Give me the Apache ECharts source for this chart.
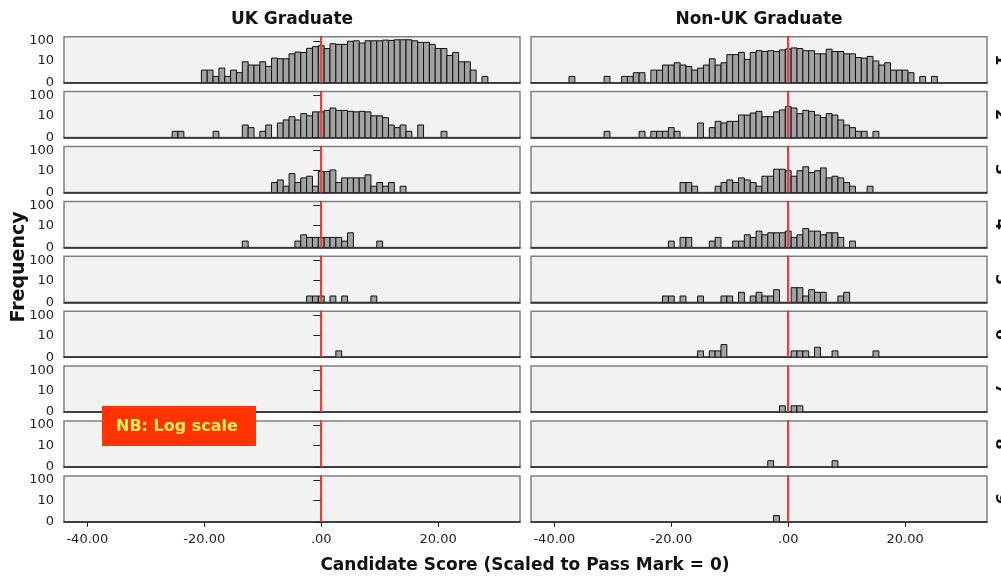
<!DOCTYPE html>
<html>
<head>
<meta charset="utf-8">
<script src="https://cdn.jsdelivr.net/npm/echarts@6/dist/echarts.min.js"></script>
<style>html,body{margin:0;padding:0;background:#fff;}#c{width:1001px;height:577px;}</style>
</head>
<body>
<div id="c"></div>
<script>
// Column and row labels
const columns = ['UK Graduate', 'Non-UK Graduate'];
const rowLabels = ['1', '2', '3', '4', '5', '6', '7', '8', '9'];
const yTickCounts = [0, 10, 100];
const xTicks = [-40, -20, 0, 20];

// Histogram counts: first bin (score) of each panel, then counts for consecutive bins of width 1
const ukStart = [-20, -25, -8, -13, -2, 3, 0, 0, 0];
const uk1 = [3,3,1,4,1,3,2,9,6,6,9,5,14,13,13,23,28,27,43,52,58,42,72,67,67,94,100,78,100,100,100,108,104,112,112,112,100,84,84,67,42,42,19,27,9,9,3,0,1];
const uk2 = [1,1,0,0,0,0,0,1,0,0,0,0,3,2,0,1,3,0,4,6,9,6,13,10,16,16,19,25,19,19,17,16,17,16,10,10,8,3,2,3,1,0,3,0,0,0,1];
const uk3 = [2,3,1,7,2,4,5,1,9,9,11,2,4,4,4,4,6,1,2,1,2,0,1];
const uk4 = [1,0,0,0,0,0,0,0,0,1,3,2,2,2,2,2,2,1,4,0,0,0,0,1];
const uk5 = [1,1,1,0,1,0,1,0,0,0,0,1];
const uk6 = [1];
const uk7 = [];
const uk8 = [];
const uk9 = [];

const nonStart = [-37, -31, -18, -20, -21, -15, -1, -3, -2];
const non1 = [1,0,0,0,0,0,1,0,0,1,1,2,2,0,3,3,6,6,8,6,5,3,4,6,13,6,8,21,21,27,12,27,33,30,33,30,36,40,45,42,33,33,23,23,39,30,30,23,23,15,14,17,10,6,8,3,3,3,2,0,1,0,1];
const non2 = [1,0,0,0,0,0,1,0,1,1,1,2,1,0,0,0,4,0,2,5,4,5,5,11,11,14,17,9,9,16,20,29,25,13,19,17,11,8,13,11,6,3,2,1,1,0,1];
const non3 = [2,2,1,0,0,0,1,2,3,2,4,3,2,1,5,5,12,12,10,5,10,16,8,10,14,4,5,4,2,1,0,0,1];
const non4 = [1,0,2,2,0,0,0,1,2,0,0,1,1,3,2,5,3,4,4,4,5,2,3,7,5,5,3,4,4,2,0,1];
const non5 = [1,1,0,1,0,0,1,0,0,0,1,1,0,2,0,1,2,1,1,3,0,0,4,4,1,3,2,2,0,0,1,2];
const non6 = [1,0,1,1,3,0,0,0,0,0,0,0,0,0,0,0,1,1,1,0,2,0,0,1,0,0,0,0,0,0,1];
const non7 = [1,0,1,1];
const non8 = [1,0,0,0,0,0,0,0,0,0,0,1];
const non9 = [1];

const ukCounts = [uk1, uk2, uk3, uk4, uk5, uk6, uk7, uk8, uk9];
const nonCounts = [non1, non2, non3, non4, non5, non6, non7, non8, non9];

// Layout
const XMIN = -44, XMAX = 34, YMAX = 2.2;
const colLeft = [64, 531];
const colWidth = 456;
const rowTop0 = 36.7, rowPitch = 54.9, rowHeight = 46;
const FONT = 'DejaVu Sans';

const logv = c => Math.log10(c + 1);
const yTickVals = yTickCounts.map(logv);

const grids = [], xAxes = [], yAxes = [], series = [];
const panels = [];
for (let r = 0; r < 9; r++) {
  panels.push({col: 0, row: r, start: ukStart[r], counts: ukCounts[r]});
  panels.push({col: 1, row: r, start: nonStart[r], counts: nonCounts[r]});
}

panels.forEach((p, i) => {
  const isBottom = p.row === 8;
  const isLeft = p.col === 0;
  grids.push({
    left: colLeft[p.col], width: colWidth,
    top: rowTop0 + rowPitch * p.row, height: rowHeight,
    show: true, backgroundColor: '#f2f2f2',
    borderColor: '#808080', borderWidth: 1.5
  });
  xAxes.push({
    type: 'value', gridIndex: i, min: XMIN, max: XMAX,
    axisLine: {show: true, onZero: false, lineStyle: {color: '#222', width: 1.5}},
    splitLine: {show: false},
    axisTick: {show: isBottom, length: 5, customValues: xTicks, lineStyle: {color: '#222'}},
    axisLabel: {
      show: isBottom, customValues: xTicks, margin: 11,
      fontFamily: FONT, fontSize: 13, color: '#222',
      formatter: v => v === 0 ? '.00' : v.toFixed(2)
    }
  });
  yAxes.push({
    type: 'value', gridIndex: i, min: 0, max: YMAX,
    axisLine: {show: true, lineStyle: {color: '#333', width: 1.5}},
    splitLine: {show: false},
    axisTick: {show: isLeft, length: 8, customValues: yTickVals, lineStyle: {color: '#222'}},
    axisLabel: {
      show: isLeft, customValues: yTickVals, margin: 10,
      fontFamily: FONT, fontSize: 13, color: '#222',
      formatter: v => String(Math.round(Math.pow(10, v) - 1))
    }
  });
  const data = [];
  p.counts.forEach((c, k) => { if (c > 0) data.push([p.start + k, logv(c)]); });
  series.push({
    type: 'custom', xAxisIndex: i, yAxisIndex: i, clip: true, silent: true,
    data: data,
    renderItem: (params, api) => {
      const x = api.value(0), y = api.value(1);
      const a = api.coord([x - 0.5, y]);
      const b = api.coord([x + 0.5, 0]);
      return {type: 'rect', shape: {x: a[0], y: a[1], width: b[0] - a[0], height: b[1] - a[1]},
        style: {fill: '#a2a2a2', stroke: '#111', lineWidth: 1}};
    },
    z: 2
  });
  series.push({
    type: 'line', xAxisIndex: i, yAxisIndex: i, silent: true,
    data: [[0, 0], [0, YMAX]], symbol: 'none',
    lineStyle: {color: '#ef3e3e', width: 2}, z: 5
  });
});

const graphics = [];
columns.forEach((t, c) => {
  graphics.push({type: 'text', x: colLeft[c] + colWidth / 2, y: 20,
    style: {text: t, fontFamily: FONT, fontSize: 17, fontWeight: 'bold', fill: '#111',
      align: 'center', verticalAlign: 'middle'}});
});
rowLabels.forEach((t, r) => {
  graphics.push({type: 'text', x: 1000, y: rowTop0 + rowPitch * r + rowHeight / 2, rotation: -Math.PI / 2,
    style: {text: t, fontFamily: FONT, fontSize: 16, fontWeight: 'bold', fill: '#111',
      align: 'center', verticalAlign: 'middle'}});
});
graphics.push({type: 'text', x: 19, y: 267, rotation: Math.PI / 2,
  style: {text: 'Frequency', fontFamily: FONT, fontSize: 19, fontWeight: 'bold', fill: '#111',
    align: 'center', verticalAlign: 'middle'}});
graphics.push({type: 'text', x: 525, y: 566,
  style: {text: 'Candidate Score (Scaled to Pass Mark = 0)', fontFamily: FONT, fontSize: 17, fontWeight: 'bold', fill: '#111',
    align: 'center', verticalAlign: 'middle'}});
graphics.push({type: 'rect', shape: {x: 102, y: 406, width: 154, height: 40}, style: {fill: '#ff3300'}, z: 100});
graphics.push({type: 'text', x: 116, y: 427, z: 101,
  style: {text: 'NB: Log scale', fontFamily: FONT, fontSize: 16, fontWeight: 'bold', fill: '#ffee55',
    align: 'left', verticalAlign: 'middle'}});

const chart = echarts.init(document.getElementById('c'), null, {renderer: 'canvas'});
chart.setOption({
  animation: false,
  backgroundColor: '#ffffff',
  grid: grids, xAxis: xAxes, yAxis: yAxes, series: series,
  graphic: graphics
});
</script>
</body>
</html>
